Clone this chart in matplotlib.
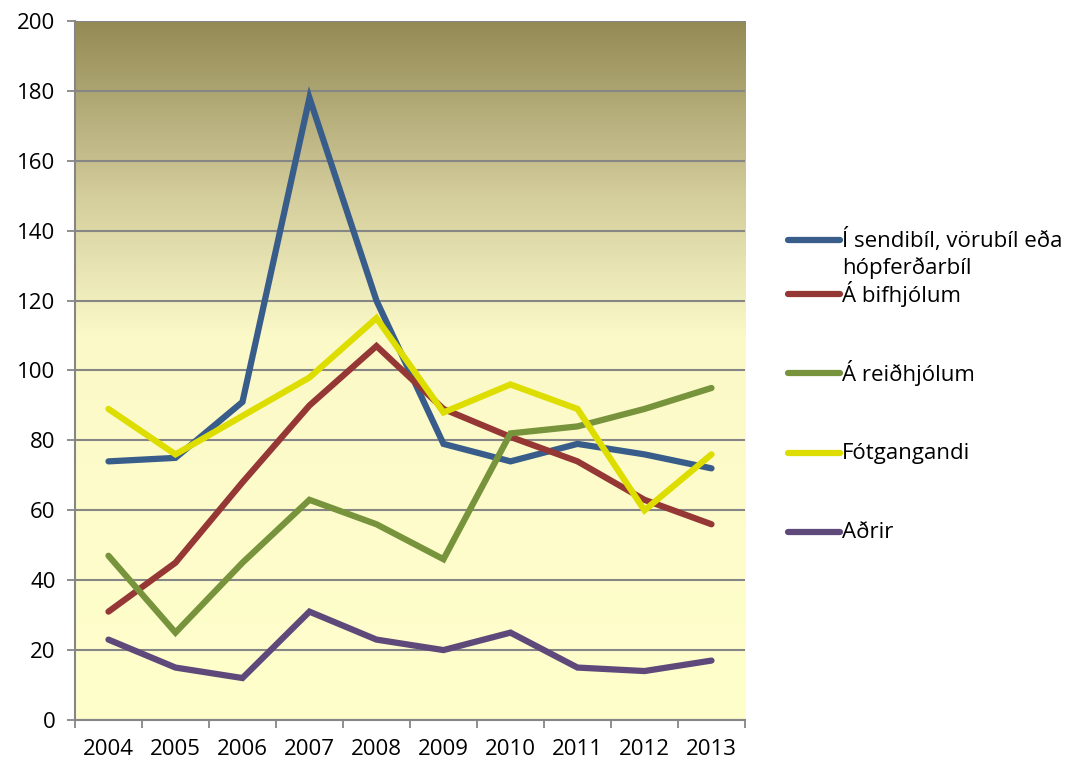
import numpy as np
import matplotlib.pyplot as plt
from matplotlib.colors import LinearSegmentedColormap
from matplotlib.lines import Line2D

years = ['2004', '2005', '2006', '2007', '2008', '2009', '2010', '2011', '2012', '2013']

sendibil = [74, 75, 91, 178, 120, 79, 74, 79, 76, 72]
bifhjol = [31, 45, 68, 90, 107, 89, 81, 74, 63, 56]
reidhjol = [47, 25, 45, 63, 56, 46, 82, 84, 89, 95]
fotgangandi = [89, 76, 87, 98, 115, 88, 96, 89, 60, 76]
adrir = [23, 15, 12, 31, 23, 20, 25, 15, 14, 17]

labels = ['Í sendibíl, vörubíl eða\nhópferðarbíl', 'Á bifhjólum', 'Á reiðhjólum',
          'Fótgangandi', 'Aðrir']
colors = ['#385D8A', '#953735', '#77933C', '#DDDD00', '#5F497A']
series = [sendibil, bifhjol, reidhjol, fotgangandi, adrir]

plt.rcParams['font.family'] = ['Open Sans', 'DejaVu Sans']
fs = 16

fig = plt.figure(figsize=(10.8, 7.67), dpi=100)
ax = fig.add_axes([0.0694, 0.0613, 0.6204, 0.9113])

# gradient bakgrunnur
cmap = LinearSegmentedColormap.from_list('bg', [(0.0, '#FFFFCC'), (0.55, '#FBF9C8'),
                                                (0.75, '#D4CD9C'), (1.0, '#938A55')])
grad = np.linspace(0, 1, 256).reshape(-1, 1)
ax.imshow(grad, aspect='auto', cmap=cmap, origin='lower',
          extent=[0, 1, 0, 1], transform=ax.transAxes, zorder=0)

x = np.arange(len(years))
for vals, c in zip(series, colors):
    ax.plot(x, vals, color=c, lw=4.5, solid_capstyle='round',
            solid_joinstyle='miter', zorder=3)

ax.set_xlim(-0.5, len(years) - 0.5)
ax.set_ylim(0, 200)
ax.set_yticks(np.arange(0, 201, 20))
ax.set_xticks(x)
ax.set_xticklabels(years)
ax.set_xticks(np.arange(-0.5, len(years), 1), minor=True)
ax.tick_params(axis='x', which='major', length=0, pad=14, labelsize=fs)
ax.tick_params(axis='x', which='minor', length=6, width=1.3, color='#868686')
ax.tick_params(axis='y', length=6, width=1.3, color='#868686', labelsize=fs, pad=8)
ax.grid(axis='y', color='#868686', lw=1.5, zorder=1)
ax.set_axisbelow(False)
for s in ['top', 'right']:
    ax.spines[s].set_visible(False)
for s in ['left', 'bottom']:
    ax.spines[s].set_color('#868686')
    ax.spines[s].set_linewidth(1.5)

# skyringar
leg_y = [240, 294, 373, 453, 532]
for y, lab, c in zip(leg_y, labels, colors):
    fy = 1 - y / 767
    fig.add_artist(Line2D([788 / 1080, 840 / 1080], [fy, fy], color=c, lw=4.5,
                          solid_capstyle='round'))
    for i, line in enumerate(lab.split('\n')):
        fig.text(842 / 1080, fy - i * 28 / 767, line, fontsize=fs, va='center')

fig.savefig('out.png', dpi=100)
